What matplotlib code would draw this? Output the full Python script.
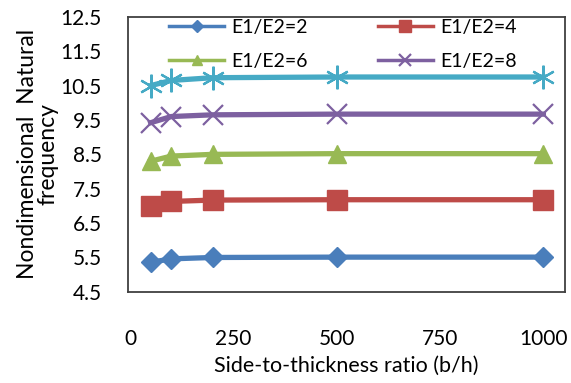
import matplotlib.pyplot as plt
from matplotlib.lines import Line2D

plt.rcParams['font.family'] = ['Lato', 'DejaVu Sans']

ratio = [50, 100, 200, 500, 1000]
w2 = [5.36, 5.46, 5.50, 5.51, 5.51]
w4 = [7.00, 7.13, 7.17, 7.18, 7.18]
w6 = [8.30, 8.45, 8.50, 8.52, 8.52]
w8 = [9.42, 9.60, 9.65, 9.67, 9.67]
w10 = [10.50, 10.65, 10.73, 10.75, 10.75]
labels = ['E1/E2=2', 'E1/E2=4', 'E1/E2=6', 'E1/E2=8', 'E1/E2=10']
xticks = [0, 250, 500, 750, 1000]
yticks = [4.5, 5.5, 6.5, 7.5, 8.5, 9.5, 10.5, 11.5, 12.5]

fig = plt.figure(figsize=(5.71, 3.83), dpi=100)
ax = fig.add_axes([0.224, 0.238, 0.766, 0.718])

series = [w2, w4, w6, w8, w10]
colors = ['#4A7EBB', '#BE4B48', '#98B954', '#7D60A0', '#46AAC5']
markers = ['D', 's', '^', 'x', (6, 2, 0)]
sizes = [10, 14, 13, 15, 17]
mews = [1, 1, 1, 1.6, 1.6]
handles = []
for y, c, m, ms, mw, lab in zip(series, colors, markers, sizes, mews, labels):
    ax.plot(ratio, y, color=c, lw=3.8, marker=m, ms=ms, mew=mw)
    # smaller markers / thinner line in the legend, like Excel
    handles.append(Line2D([], [], color=c, lw=2.5, marker=m, ms=ms * 0.6, mew=mw, label=lab))

ax.set_xlim(-5, 1053)
ax.set_ylim(4.5, 12.5)
ax.set_xticks(xticks)
ax.set_yticks(yticks)
ax.set_yticklabels(['%.1f' % v for v in yticks])
ax.tick_params(length=0, labelsize=15)
ax.tick_params(axis='x', pad=27)
ax.tick_params(axis='y', pad=19)
for s in ax.spines.values():
    s.set_color('#404040')
    s.set_linewidth(1.3)

ax.set_xlabel('Side-to-thickness ratio (b/h)', fontsize=15.5, labelpad=5)
ax.set_ylabel('Nondimensional  Natural\nfrequency', fontsize=16.5, labelpad=1, linespacing=1.0)

# order so that rows read 2,4 / 6,8
order = [0, 2, 1, 3]
ax.legend(handles=[handles[i] for i in order], ncol=2, loc='upper left',
          bbox_to_anchor=(0.075, 1.025), frameon=False,
          fontsize=14, handlelength=2.8, handletextpad=0.4, columnspacing=3.6,
          borderaxespad=0.05, labelspacing=0.9)

fig.savefig('out.png', dpi=100)
